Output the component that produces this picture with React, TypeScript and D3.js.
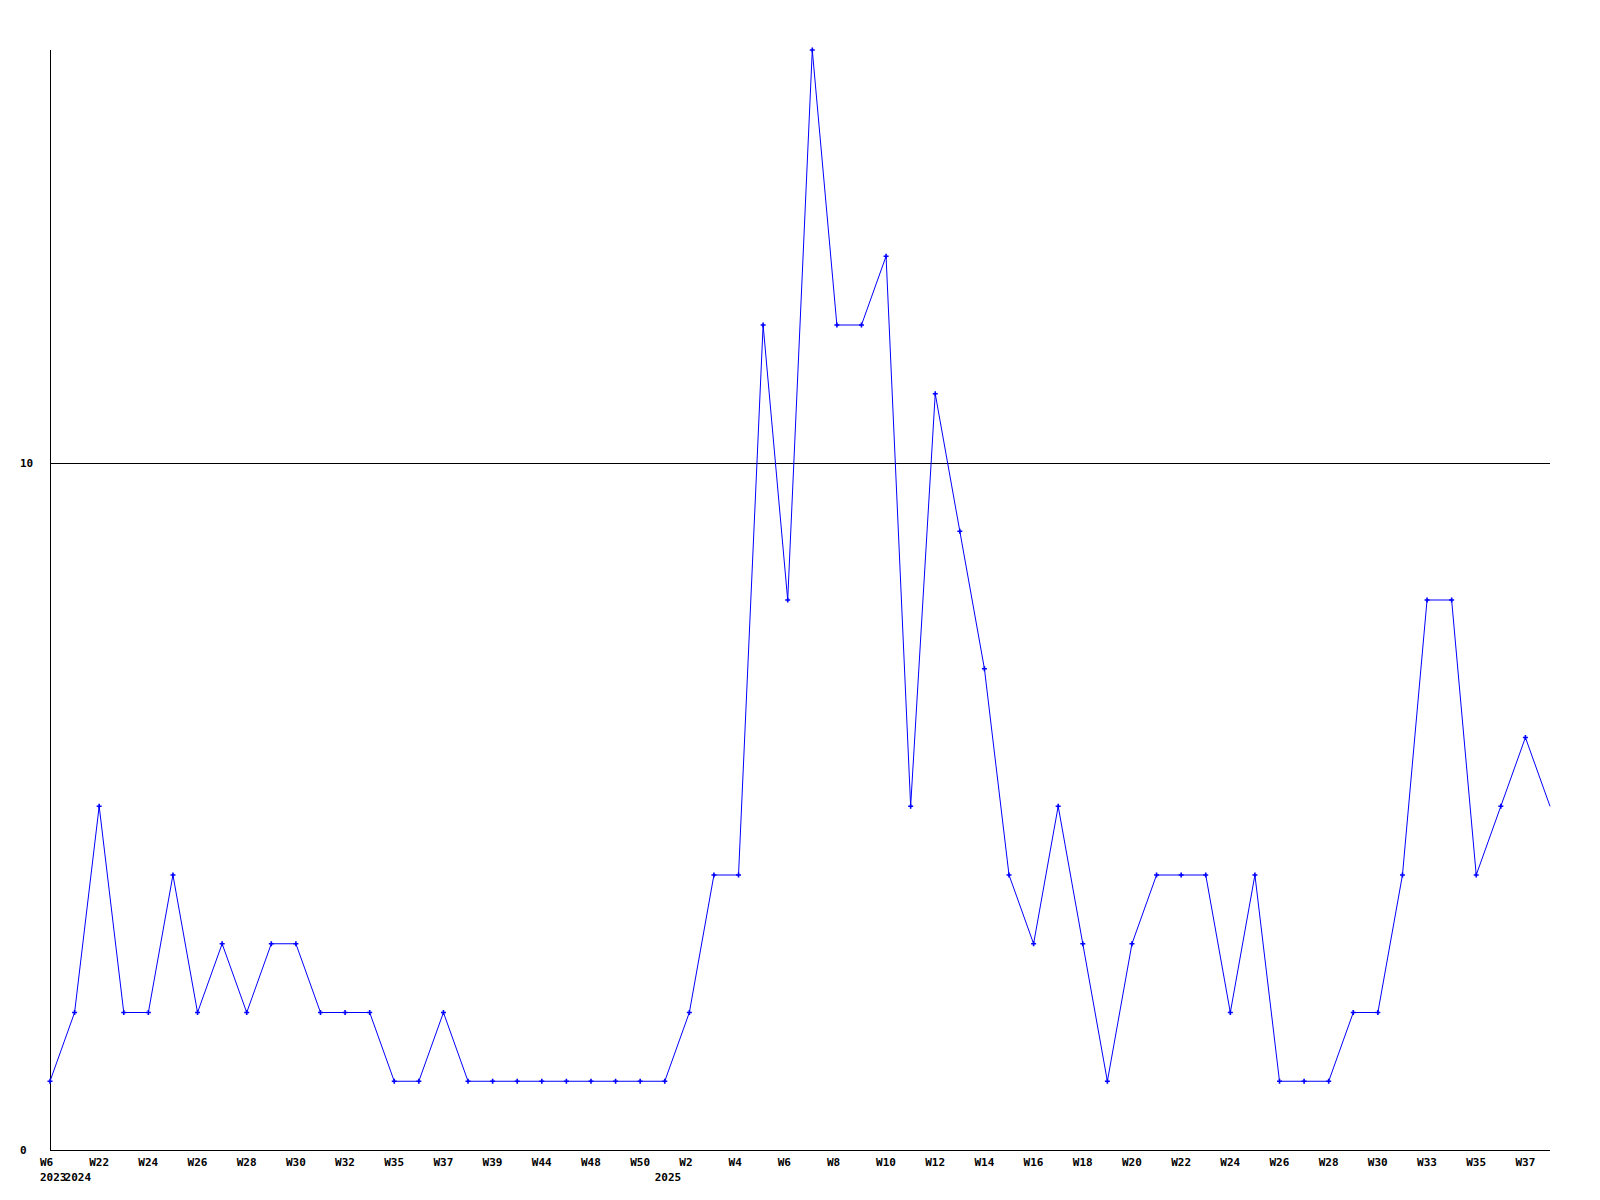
import React from "react";
import * as d3 from "d3";

const weeks = [
  "W6", "W21", "W22", "W23", "W24", "W25", "W26", "W27", "W28", "W29", "W30", "W31", "W32", "W34",
  "W35", "W36", "W37", "W38", "W39", "W42", "W44", "W46", "W48", "W49", "W50", "W1",
  "W2", "W3", "W4", "W5", "W6", "W7", "W8", "W9", "W10", "W11", "W12", "W13", "W14", "W15",
  "W16", "W17", "W18", "W19", "W20", "W21", "W22", "W23", "W24", "W25", "W26", "W27", "W28",
  "W29", "W30", "W32", "W33", "W34", "W35", "W36", "W37", "W38",
];
const values = [
  1, 2, 5, 2, 2, 4, 2, 3, 2, 3, 3, 2, 2, 2, 1, 1, 2, 1, 1, 1, 1, 1, 1, 1, 1, 1,
  2, 4, 4, 12, 8, 16, 12, 12, 13, 5, 11, 9, 7, 4, 3, 5, 3, 1, 3, 4, 4, 4, 2, 4,
  1, 1, 1, 2, 2, 4, 8, 8, 4, 5, 6, 5,
];
const yearLabels = [
  { index: 0, text: "2023" },
  { index: 1, text: "2024" },
  { index: 25, text: "2025" },
];
const yTicks = [0, 10];
const yMax = 16;

export default function App() {
  const left = 50, right = 1550, top = 50, bottom = 1150;
  const x = d3.scaleLinear().domain([0, values.length - 1]).range([left, right]);
  const y = d3.scaleLinear().domain([0, yMax]).range([bottom, top]);
  const line = d3.line<number>().x((_, i) => x(i)).y((d) => y(d));
  const font = { fontFamily: "'DejaVu Sans Mono', monospace", fontWeight: "bold", fontSize: 11 } as const;

  return (
    <svg width={1600} height={1200} style={{ position: "absolute", left: 0, top: 0, background: "#fff" }}>
      <rect x={0} y={0} width={1600} height={1200} fill="#fff" />
      {yTicks.filter((t) => t > 0).map((t) => (
        <line key={t} x1={left} x2={right} y1={Math.round(y(t)) + 0.5} y2={Math.round(y(t)) + 0.5} stroke="#000" strokeWidth={1} />
      ))}
      <line x1={left + 0.5} x2={left + 0.5} y1={top} y2={bottom + 0.5} stroke="#000" strokeWidth={1} />
      <line x1={left} x2={right} y1={bottom + 0.5} y2={bottom + 0.5} stroke="#000" strokeWidth={1} />
      {yTicks.map((t) => (
        <text key={t} x={20} y={y(t) + 4} {...font} fill="#000">{t}</text>
      ))}
      {weeks.map((w, i) =>
        i % 2 === 0 ? (
          <text key={i} x={x(i) - 10} y={1166} {...font} fill="#000">{w}</text>
        ) : null
      )}
      {yearLabels.map((yl) => (
        <text key={yl.text} x={x(yl.index) - 10} y={1181} {...font} fill="#000">{yl.text}</text>
      ))}
      <path d={line(values) || ""} fill="none" stroke="#0000ff" strokeWidth={1} />
      {values.map((v, i) =>
        i < values.length - 1 ? (
          <path
            key={i}
            d={`M${x(i) - 2.5},${y(v)}H${x(i) + 2.5}M${x(i)},${y(v) - 2.5}V${y(v) + 2.5}`}
            fill="none"
            stroke="#0000ff"
            strokeWidth={1.6}
          />
        ) : null
      )}
    </svg>
  );
}
